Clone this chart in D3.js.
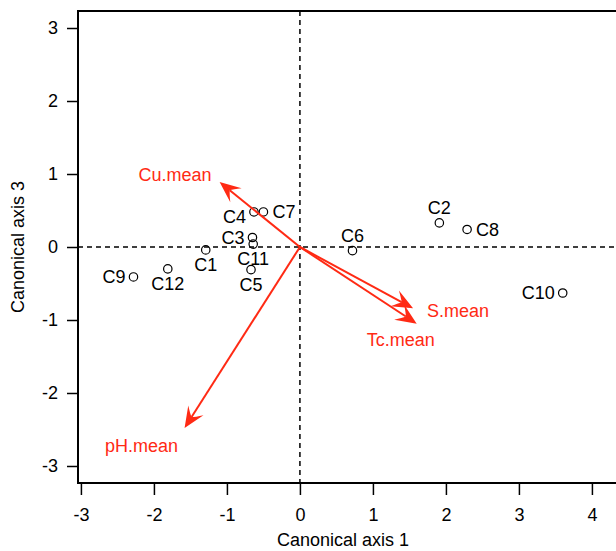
<!DOCTYPE html>
<html>
<head>
<meta charset="utf-8">
<script src="https://cdn.jsdelivr.net/npm/d3@7"></script>
<style>
  body { margin: 0; background: #fff; }
  svg { display: block; font-family: "Liberation Sans", Arial, sans-serif; }
</style>
</head>
<body>
<div id="chart"></div>
<script>
// Datos (ejes canonicos 1 y 3)
const sites = ["C1", "C2", "C3", "C4", "C5", "C6", "C7", "C8", "C9", "C10", "C11", "C12"];
const siteAxis1 = [-1.29, 1.91, -0.65, -0.63, -0.67, 0.72, -0.50, 2.29, -2.28, 3.60, -0.64, -1.81];
const siteAxis3 = [-0.04, 0.33, 0.13, 0.48, -0.31, -0.05, 0.48, 0.24, -0.41, -0.63, 0.04, -0.30];

const variables = ["Cu.mean", "S.mean", "Tc.mean", "pH.mean"];
const varAxis1 = [-1.10, 1.55, 1.60, -1.58];
const varAxis3 = [0.89, -0.84, -1.05, -2.48];

const xTicks = [-3, -2, -1, 0, 1, 2, 3, 4];
const xTickLabels = ["-3", "-2", "-1", "0", "1", "2", "3", "4"];
const yTicks = [-3, -2, -1, 0, 1, 2, 3];
const yTickLabels = ["-3", "-2", "-1", "0", "1", "2", "3"];

// donde va cada etiqueta (como pos de R: 1 abajo, 2 izq, 3 arriba, 4 der)
const siteLabelSide = [1, 3, 2, 2, 1, 3, 4, 4, 2, 2, 1, 1];
// desplazamiento de etiquetas de flechas en px respecto a la punta
const varLabelOffset = [
  { dx: -8, dy: -7, anchor: "end" },
  { dx: 14, dy: 2, anchor: "start" },
  { dx: -16, dy: 16, anchor: "middle" },
  { dx: -43, dy: 18, anchor: "middle" }
];

const width = 616;
const height = 551;
const margin = { top: 11, left: 78, bottom: 68 };
const RED = "#ff2a14";
const FONT = 18;

const svg = d3.select("#chart")
  .append("svg")
  .attr("width", width)
  .attr("height", height);

const x = d3.scaleLinear()
  .domain([-3.04, 4.52])
  .range([margin.left, margin.left + 7.56 * 73]);

const y = d3.scaleLinear()
  .domain([-3.233, 3.233])
  .range([height - margin.bottom, margin.top]);

const [x0, x1] = x.range();
const [yb, yt] = y.range();

// lineas punteadas en cero
svg.append("line")
  .attr("x1", x0).attr("x2", x1)
  .attr("y1", y(0)).attr("y2", y(0))
  .attr("stroke", "#000").attr("stroke-width", 1.5)
  .attr("stroke-dasharray", "5,4");

svg.append("line")
  .attr("x1", x(0)).attr("x2", x(0))
  .attr("y1", yt).attr("y2", yb)
  .attr("stroke", "#000").attr("stroke-width", 1.5)
  .attr("stroke-dasharray", "5,4");

// caja
svg.append("rect")
  .attr("x", x0).attr("y", yt)
  .attr("width", x1 - x0).attr("height", yb - yt)
  .attr("fill", "none")
  .attr("stroke", "#000")
  .attr("stroke-width", 2);

// ejes
const ejeX = d3.axisBottom(x)
  .tickValues(xTicks)
  .tickSize(12)
  .tickPadding(13)
  .tickFormat((d, i) => xTickLabels[i]);

const ejeY = d3.axisLeft(y)
  .tickValues(yTicks)
  .tickSize(11)
  .tickPadding(9)
  .tickFormat((d, i) => yTickLabels[i]);

const gx = svg.append("g")
  .attr("transform", `translate(0, ${yb})`)
  .call(ejeX);
const gy = svg.append("g")
  .attr("transform", `translate(${x0}, 0)`)
  .call(ejeY);

[gx, gy].forEach(g => {
  g.select(".domain").remove();
  g.selectAll(".tick line").attr("stroke", "#000").attr("stroke-width", 1.5);
  g.selectAll(".tick text")
    .attr("fill", "#000")
    .style("font-family", "'Liberation Sans', Arial, sans-serif")
    .style("font-size", FONT + "px");
});

// titulos de ejes
svg.append("text")
  .attr("x", 343)
  .attr("y", 546)
  .attr("text-anchor", "middle")
  .style("font-size", FONT + "px")
  .text("Canonical axis 1");

svg.append("text")
  .attr("transform", `translate(24, ${(yt + yb) / 2}) rotate(-90)`)
  .attr("text-anchor", "middle")
  .style("font-size", FONT + "px")
  .text("Canonical axis 3");

// sitios
const siteData = sites.map((s, i) => ({
  name: s, a1: siteAxis1[i], a3: siteAxis3[i], side: siteLabelSide[i]
}));

svg.append("g")
  .selectAll("circle")
  .data(siteData)
  .join("circle")
  .attr("cx", d => x(d.a1))
  .attr("cy", d => y(d.a3))
  .attr("r", 4.2)
  .attr("fill", "none")
  .attr("stroke", "#000")
  .attr("stroke-width", 1.2);

svg.append("g")
  .selectAll("text")
  .data(siteData)
  .join("text")
  .attr("x", d => x(d.a1) + (d.side === 2 ? -8 : d.side === 4 ? 9 : 0))
  .attr("y", d => y(d.a3) + (d.side === 1 ? 15 : d.side === 3 ? -15 : 0) + (d.name === "C4" ? 5 : 0))
  .attr("dy", "0.35em")
  .attr("text-anchor", d => d.side === 2 ? "end" : d.side === 4 ? "start" : "middle")
  .style("font-size", FONT + "px")
  .text(d => d.name);

// flechas de variables
const varData = variables.map((v, i) => ({
  name: v, a1: varAxis1[i], a3: varAxis3[i], off: varLabelOffset[i]
}));

const flechas = svg.append("g");
varData.forEach(d => {
  const tx = x(d.a1), ty = y(d.a3);
  const ang = Math.atan2(ty - y(0), tx - x(0));
  const back = 13;
  flechas.append("line")
    .attr("x1", x(0)).attr("y1", y(0))
    .attr("x2", tx - back * Math.cos(ang))
    .attr("y2", ty - back * Math.sin(ang))
    .attr("stroke", RED)
    .attr("stroke-width", 2);
  flechas.append("path")
    .attr("d", "M0,0 L-21,-9 Q-15,-3 -13,0 Q-15,3 -21,9 Z")
    .attr("transform", `translate(${tx}, ${ty}) rotate(${ang * 180 / Math.PI})`)
    .attr("fill", RED);
  flechas.append("text")
    .attr("x", tx + d.off.dx)
    .attr("y", ty + d.off.dy)
    .attr("dy", "0.35em")
    .attr("text-anchor", d.off.anchor)
    .attr("fill", RED)
    .style("font-size", FONT + "px")
    .text(d.name);
});
</script>
</body>
</html>
